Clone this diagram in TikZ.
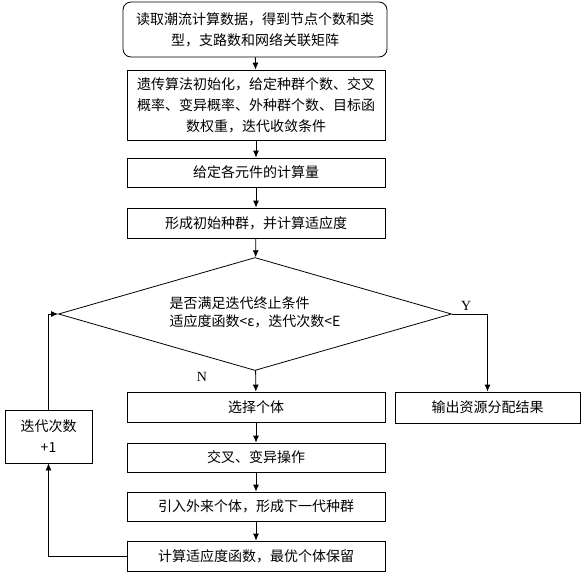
\documentclass[tikz,border=0pt]{standalone}
\usepackage{fontspec}
\setmainfont{Liberation Serif}
\newfontfamily\cjk{Noto Sans CJK SC}
\usetikzlibrary{shapes.geometric,arrows.meta}
\begin{document}
\begin{tikzpicture}[x=1pt, y=-1pt,
  every node/.style={font=\cjk\fontsize{14}{21}\selectfont},
  stepbox/.style={draw, line width=0.8pt, minimum width=258pt, align=center, inner sep=0pt},
  flow/.style={line width=0.8pt, -{Latex[length=7pt,width=6pt]}}]
  \useasboundingbox (0, 0) rectangle (584, 576);
  \node[stepbox, rounded corners=8pt, minimum width=264pt, minimum height=55pt] (read) at (255, 29.5) {读取潮流计算数据，得到节点个数和类\\型，支路数和网络关联矩阵};
  \node[stepbox, minimum height=70pt] (init) at (256, 105) {遗传算法初始化，给定种群个数、交叉\\概率、变异概率、外种群个数、目标函\\数权重，迭代收敛条件};
  \node[stepbox, minimum height=29pt] (load) at (256, 172.5) {给定各元件的计算量};
  \node[stepbox, minimum height=30pt] (pop) at (256, 223) {形成初始种群，并计算适应度};
  \node[diamond, draw, line width=0.8pt, shape aspect=3.48, minimum width=393pt, minimum height=113pt, inner sep=0pt, align=left, font=\cjk\fontsize{14}{18}\selectfont] (cond) at (255, 314) {\raisebox{4pt}{是否满足迭代终止条件}\\\raisebox{4pt}{适应度函数<ε，迭代次数<E}};
  \node[stepbox, minimum height=30pt] (sel) at (256, 407) {选择个体};
  \node[stepbox, minimum height=31pt, minimum width=185pt] (out) at (487.5, 407.5) {输出资源分配结果};
  \node[stepbox, minimum height=29pt] (cross) at (256, 457.5) {交叉、变异操作};
  \node[stepbox, minimum height=29pt] (next) at (256, 506.5) {引入外来个体，形成下一代种群};
  \node[stepbox, minimum height=30pt] (fit) at (256, 556) {计算适应度函数，最优个体保留};
  \node[stepbox, minimum height=53pt, minimum width=87pt] (iter) at (48.5, 436.5) {迭代次数\\+1};
  \draw[flow] (read) -- (init);
  \draw[flow] (init) -- (load);
  \draw[flow] (load) -- (pop);
  \draw[flow] (pop) -- (cond);
  \draw[flow] (cond) -- node[left=45pt, pos=0.3, font=\fontsize{14}{16}\selectfont] {N} (sel);
  \draw[flow] (cond.east) -| node[above, pos=0.2, font=\fontsize{14}{16}\selectfont] {Y} (out.north);
  \draw[flow] (sel) -- (cross);
  \draw[flow] (cross) -- (next);
  \draw[flow] (next) -- (fit);
  \draw[flow] (fit.west) -| (iter.south);
  \draw[flow] (iter.north) |- (cond.west);
\end{tikzpicture}
\end{document}
